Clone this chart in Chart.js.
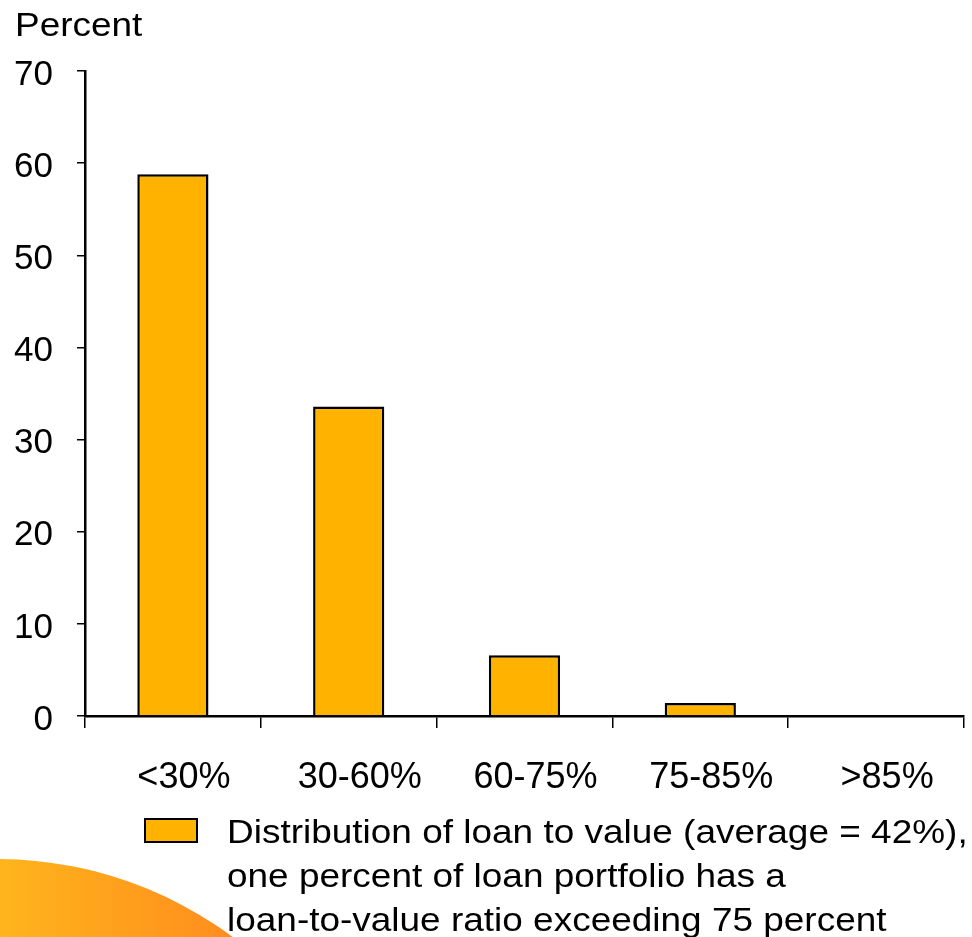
<!DOCTYPE html>
<html>
<head>
<meta charset="utf-8">
<script src="https://cdn.jsdelivr.net/npm/chart.js@4/dist/chart.umd.min.js"></script>
<style>
  html, body { margin: 0; padding: 0; background: #ffffff; }
  #wrap { position: relative; width: 972px; height: 937px; overflow: hidden; }
  #ltvChart { position: absolute; left: 0; top: 0; }
  .axis-title {
    position: absolute; left: 15px; top: 6px;
    font-family: "Liberation Sans", Arial, sans-serif; font-size: 33px; color: #000;
    transform: scaleX(1.12); transform-origin: left top;
  }
  .legend {
    position: absolute; left: 144px; top: 810px;
    font-family: "Liberation Sans", Arial, sans-serif; font-size: 33px; line-height: 44px; color: #000;
  }
  .legend .swatch {
    position: absolute; left: 0; top: 8px; width: 50px; height: 21px;
    background: #ffb300; border: 2px solid #000;
  }
  .legend .text {
    margin-left: 83px; white-space: nowrap;
    transform: scaleX(1.12); transform-origin: left top;
  }
</style>
</head>
<body>
<div id="wrap">
  <canvas id="ltvChart" width="972" height="937"></canvas>
  <div class="axis-title">Percent</div>
  <div class="legend">
    <div class="swatch"></div>
    <div class="text" id="legendText"></div>
  </div>
</div>
<script>
// Loan-to-value buckets and share of the loan portfolio (percent)
const categories = ['<30%', '30-60%', '60-75%', '75-85%', '>85%'];
const shares = [58.8, 33.6, 6.6, 1.4, 0];
const yTicks = [0, 10, 20, 30, 40, 50, 60, 70];
const legendLines = [
  'Distribution of loan to value (average = 42%),',
  'one percent of loan portfolio has a',
  'loan-to-value ratio exceeding 75 percent'
];

const barColor = '#ffb300';
const fontFamily = '"Liberation Sans", Arial, sans-serif';

document.getElementById('legendText').innerHTML = legendLines.join('<br>');

// Orange corner swoosh behind the legend
const swoosh = {
  id: 'swoosh',
  beforeDraw(chart) {
    const ctx = chart.ctx;
    ctx.save();
    const grad = ctx.createLinearGradient(0, 0, 240, 0);
    grad.addColorStop(0, '#ffb41c');
    grad.addColorStop(1, '#ff8c1e');
    ctx.fillStyle = grad;
    ctx.beginPath();
    ctx.arc(-3, 1254, 395, 0, Math.PI * 2);
    ctx.fill();
    ctx.restore();
  }
};

const ctx = document.getElementById('ltvChart').getContext('2d');
new Chart(ctx, {
  type: 'bar',
  data: {
    labels: categories,
    datasets: [{
      label: legendLines.join(' '),
      data: shares,
      backgroundColor: barColor,
      borderColor: '#000000',
      borderWidth: 2.5,
      categoryPercentage: 1.0,
      barPercentage: 0.405
    }]
  },
  options: {
    responsive: false,
    animation: false,
    layout: { padding: { top: 71, right: 8, left: 0, bottom: 0 } },
    plugins: {
      legend: { display: false },
      tooltip: { enabled: false }
    },
    scales: {
      x: {
        afterFit: (scale) => { scale.height = 221; },
        border: { display: true, color: '#000', width: 2.5 },
        grid: {
          offset: true,
          drawOnChartArea: false,
          drawTicks: true,
          tickLength: 12,
          color: '#000',
          lineWidth: 1.5
        },
        ticks: { color: '#000', font: { family: fontFamily, size: 36 }, padding: 28, maxRotation: 0, labelOffset: 11 }
      },
      y: {
        min: 0,
        max: 70,
        afterFit: (scale) => { scale.width = 85; },
        afterBuildTicks: (scale) => { scale.ticks = yTicks.map(v => ({ value: v })); },
        border: { display: true, color: '#000', width: 2.5 },
        grid: {
          drawOnChartArea: false,
          drawTicks: true,
          tickLength: 8,
          color: '#000',
          lineWidth: 1.5
        },
        ticks: { color: '#000', font: { family: fontFamily, size: 35 }, padding: 24, labelOffset: 4 }
      }
    }
  },
  plugins: [swoosh]
});
</script>
</body>
</html>
